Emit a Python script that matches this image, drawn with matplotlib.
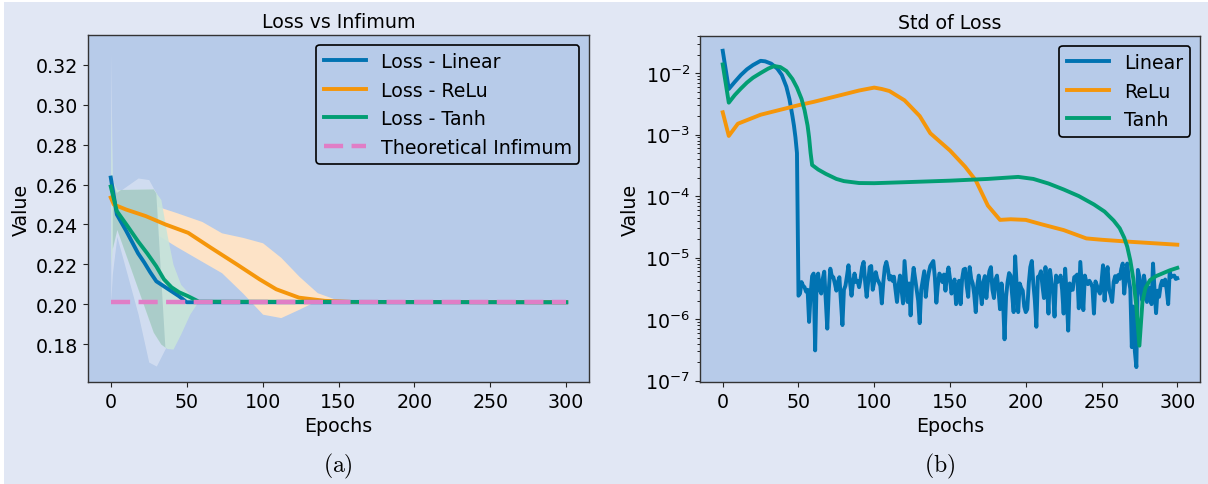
import numpy as np
import matplotlib
matplotlib.use("Agg")
import matplotlib.pyplot as plt
from matplotlib.patches import Rectangle

# ---------------- data: left panel (Loss vs Infimum) ----------------
lin_ep = [0, 4, 10, 18, 22, 26, 30, 34, 40, 45, 50, 300]
lin_mean = [0.2635, 0.2450, 0.2370, 0.2255, 0.2210, 0.2160, 0.2115, 0.2095, 0.2065, 0.2040, 0.2010, 0.2010]
lin_band_ep = [0, 1, 4, 18, 25, 30, 36]
lin_band_hi = [0.327, 0.262, 0.2558, 0.2633, 0.2625, 0.2555, 0.1780]
lin_band_lo = [0.201, 0.215, 0.2340, 0.1950, 0.1710, 0.1690, 0.1780]

relu_ep = [0, 2, 10, 23, 36, 51, 66, 83, 98, 109, 124, 141, 160, 300]
relu_mean = [0.2535, 0.2500, 0.2475, 0.2442, 0.2400, 0.2358, 0.2283, 0.2200, 0.2125, 0.2075, 0.2033, 0.2017, 0.2011, 0.2010]
relu_band_ep = [0, 5, 13, 25, 43, 60, 73, 87, 100, 112, 124, 136, 148, 160, 300]
relu_band_hi = [0.2555, 0.2525, 0.2525, 0.2505, 0.2460, 0.2415, 0.2358, 0.2335, 0.2308, 0.2235, 0.2140, 0.2058, 0.2025, 0.2013, 0.2011]
relu_band_lo = [0.2515, 0.2470, 0.2425, 0.2375, 0.2290, 0.2215, 0.2158, 0.2055, 0.1950, 0.1933, 0.1975, 0.2020, 0.2010, 0.2009, 0.2009]

tanh_ep = [0, 4, 11, 18, 24, 30, 35, 40, 45, 51, 58, 300]
tanh_mean = [0.2590, 0.2467, 0.2392, 0.2315, 0.2255, 0.2190, 0.2125, 0.2085, 0.2060, 0.2040, 0.2013, 0.2010]
tanh_band_ep = [0, 1, 4, 28, 33, 37, 41, 46, 52, 58]
tanh_band_hi = [0.298, 0.262, 0.2575, 0.2578, 0.2525, 0.2350, 0.2200, 0.2100, 0.2050, 0.2020]
tanh_band_lo = [0.219, 0.228, 0.2375, 0.1860, 0.1800, 0.1778, 0.1775, 0.1850, 0.1950, 0.2020]

infimum_ep = [0, 300]
infimum_val = [0.2009, 0.2009]

# ---------------- data: right panel (Std of Loss) ----------------
lin_std_ep_head = [0, 2, 4, 8, 12, 16, 20, 25, 28, 32, 36, 39, 42, 44, 46, 47, 48, 49]
lin_std_head = [0.023, 0.0112, 0.0055, 0.0072, 0.0093, 0.0115, 0.0135, 0.0158, 0.0155, 0.0142,
                0.0118, 0.0093, 0.0060, 0.0038, 0.0020, 0.0014, 0.0009, 0.0005]
# epochs 50..300, values in units of 1e-6
lin_std_tail_e6 = [
    2.4, 2.6, 4.0, 3.5, 3.3, 2.8, 3.0, 0.9, 2.5, 5.0,
    5.5, 0.31, 4.5, 5.5, 3.0, 2.6, 4.5, 5.9, 2.0, 0.70,
    3.0, 6.6, 5.0, 4.8, 3.8, 2.9, 4.0, 4.8, 2.0, 0.8,
    3.0, 3.5, 5.0, 7.5, 4.0, 2.4, 4.0, 5.5, 4.0, 4.2,
    3.3, 4.5, 7.0, 8.5, 4.0, 2.3, 4.0, 7.0, 7.3, 3.0,
    4.0, 5.8, 4.5, 4.0, 3.5, 1.8, 4.0, 7.0, 8.5, 6.5,
    4.4, 5.0, 4.2, 4.9, 3.0, 1.9, 3.5, 5.1, 3.0, 1.8,
    8.8, 4.0, 1.9, 3.8, 1.15, 4.0, 6.8, 4.5, 2.9, 2.0,
    0.86, 3.0, 4.2, 6.0, 2.3, 4.0, 5.7, 7.3, 8.0, 8.8,
    4.8, 1.85, 3.5, 5.5, 5.0, 4.0, 5.3, 2.9, 5.0, 6.9,
    4.5, 2.6, 3.5, 4.4, 1.75, 3.0, 4.2, 1.75, 4.5, 6.4,
    6.6, 3.5, 2.3, 7.0, 4.5, 3.8, 2.5, 1.3, 3.5, 5.1,
    3.0, 1.75, 4.0, 5.0, 2.2, 4.0, 6.0, 7.0, 3.0, 2.2,
    4.4, 5.1, 3.0, 1.45, 3.8, 2.0, 0.47, 2.3, 4.0, 5.6,
    5.1, 2.5, 1.3, 10.5, 3.5, 1.3, 3.8, 3.2, 2.9, 1.6,
    1.3, 1.45, 3.8, 7.0, 8.8, 3.8, 2.0, 0.75, 4.85, 5.0,
    6.0, 3.5, 2.2, 7.0, 3.5, 1.23, 6.3, 4.0, 2.8, 1.1,
    5.1, 4.0, 4.4, 5.1, 3.0, 1.23, 6.6, 2.5, 0.65, 3.8,
    3.0, 3.0, 4.8, 5.0, 5.3, 1.5, 8.5, 3.5, 1.4, 5.1,
    4.0, 3.7, 4.2, 3.8, 3.3, 1.23, 4.1, 3.5, 2.9, 2.6,
    4.0, 7.5, 2.0, 4.5, 7.0, 3.0, 2.5, 1.9, 4.0, 5.0,
    4.0, 5.2, 4.5, 6.5, 8.0, 2.6, 5.0, 8.0, 4.4, 3.1,
    0.35, 1.6, 0.3, 0.166, 6.3, 4.85, 3.0, 2.0, 5.1, 3.5,
    1.9, 3.3, 3.0, 1.75, 8.0, 3.0, 1.25, 2.9, 2.3, 3.5,
    4.2, 3.55, 4.4, 3.0, 1.75, 5.9, 4.85, 5.0, 5.1, 4.5,
    4.6,
]
lin_std_ep_tail = list(range(50, 301))

relu_std_ep = [0, 4, 10, 25, 50, 60, 75, 90, 100, 105, 110, 120, 130, 137, 150, 160, 167, 175, 183,
               190, 200, 210, 225, 240, 250, 270, 300]
relu_std = [0.0023, 0.00095, 0.0015, 0.0021, 0.0030, 0.0034, 0.0042, 0.0052, 0.0058, 0.0055, 0.0051,
            0.0036, 0.0020, 0.00105, 0.00055, 0.00030, 0.00018, 7.0e-5, 4.1e-5,
            4.2e-5, 4.1e-5, 3.5e-5, 2.8e-5, 2.05e-5, 1.95e-5, 1.8e-5, 1.62e-5]

tanh_std_ep = [0, 4, 8, 12, 16, 20, 25, 30, 34, 38, 42, 46, 49, 52, 54, 56, 57, 58, 59, 63, 68, 75, 80,
               90, 100, 120, 150, 175, 195, 205, 215, 225, 235, 245, 252, 258, 262, 265, 267, 269, 271,
               273, 275, 277, 279, 282, 286, 290, 295, 300]
tanh_std = [0.0138, 0.0033, 0.0044, 0.0056, 0.0070, 0.0084, 0.0100, 0.0118, 0.0130, 0.0125, 0.0108,
            0.0080, 0.0058, 0.0038, 0.0025, 0.0014, 0.0009, 0.0005, 0.00032, 0.00027, 0.00023,
            0.00019, 0.000175, 0.000163, 0.000162, 0.000168, 0.000178, 0.00019, 0.000205, 0.00019,
            0.00016, 0.000128, 0.0001, 7.3e-5, 5.6e-5, 4.0e-5, 3.0e-5, 2.1e-5, 1.5e-5, 9e-6, 4.5e-6,
            1.6e-6, 3.7e-7, 1.9e-6, 3.2e-6, 4.3e-6, 5.0e-6, 5.5e-6, 6.2e-6, 6.8e-6]

# ---------------- style ----------------
C_BLUE, C_ORANGE, C_GREEN, C_PINK = "#0173B2", "#F5960A", "#029E73", "#E07EC6"
AX_BG = "#b7cbe9"
FIG_BG = "#e1e7f4"
FS = 13.7
LW = 2.8

plt.rcParams["font.family"] = ["DejaVu Sans"]

W, H = 1208, 485
fig = plt.figure(figsize=(W / 100, H / 100), dpi=100, facecolor="white")
fig.patches.append(Rectangle((4 / W, 0), 1, 1 - 3 / H, transform=fig.transFigure,
                             facecolor=FIG_BG, edgecolor="none", zorder=-10))


def px_axes(l, t, r, b):
    return fig.add_axes([l / W, 1 - b / H, (r - l) / W, (b - t) / H])


def style(ax):
    ax.set_facecolor(AX_BG)
    for s in ax.spines.values():
        s.set_color("#333333")
        s.set_linewidth(1.0)
    ax.tick_params(labelsize=FS, colors="#222222", labelcolor="black")


# left
ax1 = px_axes(88, 36, 589, 383)
style(ax1)
ax1.fill_between(relu_band_ep, relu_band_lo, relu_band_hi, color="#fde3c7", lw=0)
p_lin = ax1.fill_between(lin_band_ep, lin_band_lo, lin_band_hi, color="#d3def1", alpha=0.92, lw=0)
ax1.fill_between(tanh_band_ep, tanh_band_lo, tanh_band_hi, color="#c9e5d9", alpha=0.9, lw=0)
p_ov = ax1.fill_between(tanh_band_ep[1:], tanh_band_lo[1:], tanh_band_hi[1:], color="#a9cbc9",
                        alpha=0.95, lw=0)
p_ov.set_clip_path(p_lin.get_paths()[0], ax1.transData)

ax1.plot(lin_ep, lin_mean, color=C_BLUE, lw=LW, label="Loss - Linear")
ax1.plot(relu_ep, relu_mean, color=C_ORANGE, lw=LW, label="Loss - ReLu")
ax1.plot(tanh_ep, tanh_mean, color=C_GREEN, lw=LW, label="Loss - Tanh")
ax1.plot(infimum_ep, infimum_val, color=C_PINK, lw=3.2, ls=(0, (4.3, 1.9)), label="Theoretical Infimum")
ax1.set_xlim(-15, 315)
ax1.set_ylim(0.161, 0.335)
ax1.set_yticks([0.18, 0.20, 0.22, 0.24, 0.26, 0.28, 0.30, 0.32])
ax1.set_xticks([0, 50, 100, 150, 200, 250, 300])
ax1.set_title("Loss vs Infimum", fontsize=FS)
ax1.set_xlabel("Epochs", fontsize=FS)
ax1.set_ylabel("Value", fontsize=FS)
leg1 = ax1.legend(loc="upper right", fontsize=FS, facecolor=AX_BG, edgecolor="black",
                  framealpha=1, handlelength=2.2)
leg1.get_frame().set_linewidth(1.2)

# right
ax2 = px_axes(700, 37, 1200, 383)
style(ax2)
ax2.set_yscale("log")
ax2.plot(lin_std_ep_head + lin_std_ep_tail,
         lin_std_head + [v * 1e-6 for v in lin_std_tail_e6],
         color=C_BLUE, lw=LW, label="Linear")
ax2.plot(relu_std_ep, relu_std, color=C_ORANGE, lw=LW, label="ReLu")
ax2.plot(tanh_std_ep, tanh_std, color=C_GREEN, lw=LW, label="Tanh")
ax2.set_xlim(-15, 315)
ax2.set_ylim(9.5e-8, 4.0e-2)
ax2.set_xticks([0, 50, 100, 150, 200, 250, 300])
ax2.set_title("Std of Loss", fontsize=FS)
ax2.set_xlabel("Epochs", fontsize=FS)
ax2.set_ylabel("Value", fontsize=FS)
leg2 = ax2.legend(loc="upper right", fontsize=FS, facecolor=AX_BG, edgecolor="black",
                  framealpha=1, handlelength=2.2)
leg2.get_frame().set_linewidth(1.2)

# captions
fig.text(338 / W, 1 - 466 / H, r"$\mathrm{(a)}$", ha="center", va="center", fontsize=17,
         math_fontfamily="cm")
fig.text(940 / W, 1 - 466 / H, r"$\mathrm{(b)}$", ha="center", va="center", fontsize=17,
         math_fontfamily="cm")

fig.savefig("out.png", dpi=100, facecolor=fig.get_facecolor())
